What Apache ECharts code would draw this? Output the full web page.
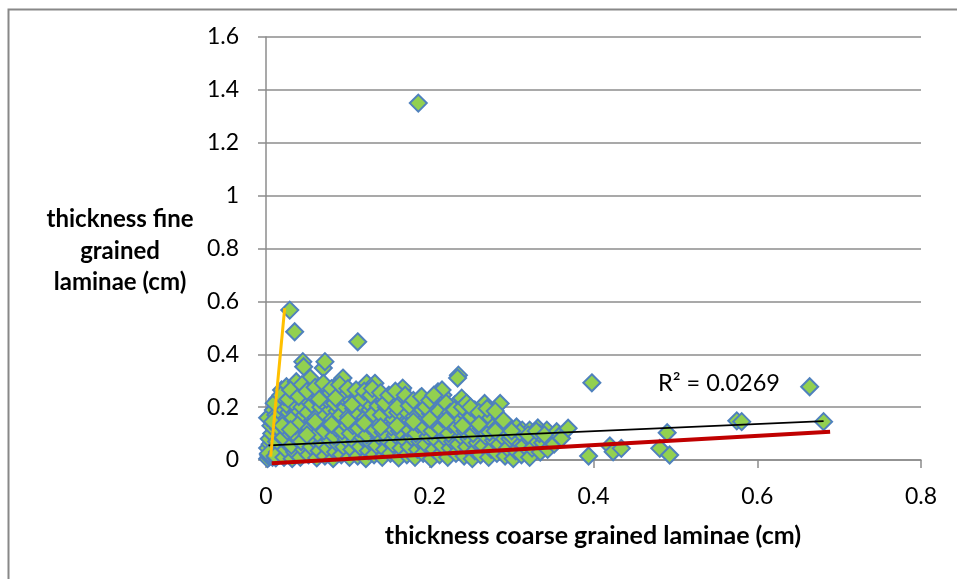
<!DOCTYPE html>
<html>
<head>
<meta charset="utf-8">
<script src="https://cdn.jsdelivr.net/npm/echarts@6/dist/echarts.min.js"></script>
<style>
  html, body { margin: 0; padding: 0; background: #ffffff; }
  #chart { width: 957px; height: 579px; }
</style>
</head>
<body>
<div id="chart"></div>
<script>
// Paired measurements: [coarse lamina thickness, fine lamina thickness] in cm
const laminae = [
  [0.002,0.005],[0.004,0.012],[0.003,0.02],[0.006,0.03],[0.002,0.045],[0.005,0.06],[0.004,0.08],[0.007,0.1],[0.006,0.13],[0.002,0.16],[0.009,0.189],[0.008,0.01],[0.003,0.025],
  [0.012,0.008],[0.014,0.03],[0.016,0.05],[0.013,0.07],[0.018,0.09],[0.015,0.12],[0.017,0.14],[0.012,0.17],[0.019,0.2],[0.014,0.23],[0.019,0.265],[0.011,0.015],
  [0.022,0.01],[0.024,0.04],[0.027,0.06],[0.021,0.085],[0.026,0.11],[0.023,0.15],[0.028,0.18],[0.025,0.21],[0.022,0.24],[0.025,0.277],[0.029,0.567],
  [0.032,0.005],[0.035,0.03],[0.031,0.055],[0.038,0.08],[0.034,0.1],[0.036,0.13],[0.033,0.16],[0.039,0.19],[0.032,0.22],[0.036,0.25],[0.037,0.296],[0.035,0.485],
  [0.042,0.01],[0.046,0.04],[0.043,0.07],[0.048,0.11],[0.041,0.14],[0.047,0.17],[0.044,0.2],[0.049,0.23],[0.042,0.26],[0.045,0.372],[0.046,0.353],
  [0.052,0.02],[0.055,0.05],[0.058,0.08],[0.053,0.12],[0.057,0.15],[0.051,0.18],[0.056,0.21],[0.059,0.24],[0.051,0.277],[0.054,0.31],
  [0.062,0.008],[0.065,0.035],[0.068,0.065],[0.063,0.1],[0.066,0.13],[0.061,0.16],[0.067,0.2],[0.064,0.25],[0.069,0.22],
  [0.072,0.015],[0.075,0.045],[0.078,0.075],[0.071,0.11],[0.076,0.14],[0.073,0.17],[0.079,0.19],[0.074,0.23],[0.077,0.26],[0.07,0.348],[0.072,0.372],
  [0.082,0.005],[0.085,0.03],[0.088,0.06],[0.083,0.09],[0.086,0.12],[0.081,0.155],[0.087,0.185],[0.084,0.215],[0.089,0.25],
  [0.092,0.02],[0.095,0.05],[0.098,0.08],[0.093,0.11],[0.096,0.14],[0.091,0.17],[0.097,0.2],[0.094,0.24],[0.092,0.302],[0.094,0.31],
  [0.102,0.01],[0.105,0.04],[0.108,0.07],[0.103,0.1],[0.106,0.13],[0.101,0.165],[0.107,0.195],[0.104,0.225],[0.109,0.253],
  [0.112,0.015],[0.115,0.05],[0.118,0.085],[0.113,0.12],[0.116,0.15],[0.111,0.18],[0.117,0.21],[0.112,0.447],[0.114,0.24],
  [0.122,0.005],[0.125,0.035],[0.128,0.065],[0.123,0.095],[0.126,0.13],[0.121,0.16],[0.127,0.19],[0.124,0.22],[0.123,0.284],[0.123,0.29],
  [0.132,0.02],[0.135,0.055],[0.138,0.09],[0.133,0.115],[0.136,0.145],[0.131,0.175],[0.137,0.205],[0.134,0.25],[0.133,0.29],
  [0.142,0.01],[0.145,0.04],[0.148,0.075],[0.143,0.105],[0.146,0.14],[0.141,0.17],[0.147,0.2],[0.144,0.23],
  [0.152,0.025],[0.155,0.06],[0.158,0.095],[0.153,0.125],[0.156,0.155],[0.151,0.19],[0.154,0.234],[0.157,0.215],
  [0.162,0.008],[0.165,0.045],[0.168,0.08],[0.163,0.11],[0.166,0.145],[0.161,0.18],[0.167,0.21],[0.166,0.265],[0.167,0.272],[0.164,0.24],
  [0.172,0.02],[0.175,0.05],[0.178,0.085],[0.173,0.12],[0.176,0.15],[0.171,0.185],[0.177,0.22],
  [0.182,0.01],[0.185,0.04],[0.188,0.07],[0.183,0.1],[0.186,0.135],[0.181,0.165],[0.187,0.2],[0.188,0.234],[0.186,1.35],
  [0.192,0.025],[0.195,0.06],[0.198,0.09],[0.193,0.125],[0.196,0.16],[0.191,0.19],[0.197,0.215],
  [0.202,0.005],[0.205,0.04],[0.208,0.075],[0.203,0.11],[0.206,0.14],[0.201,0.175],[0.207,0.2],[0.21,0.258],
  [0.212,0.02],[0.215,0.055],[0.218,0.085],[0.213,0.12],[0.216,0.155],[0.211,0.185],[0.216,0.227],[0.216,0.246],[0.215,0.265],
  [0.222,0.01],[0.225,0.045],[0.228,0.07],[0.223,0.1],[0.226,0.135],[0.221,0.165],[0.227,0.195],
  [0.232,0.025],[0.235,0.06],[0.238,0.09],[0.233,0.125],[0.236,0.155],[0.231,0.21],[0.239,0.234],[0.235,0.321],[0.234,0.31],
  [0.242,0.015],[0.245,0.05],[0.248,0.08],[0.243,0.11],[0.246,0.145],[0.241,0.18],
  [0.252,0.005],[0.255,0.035],[0.258,0.065],[0.253,0.1],[0.256,0.13],[0.251,0.165],[0.255,0.189],
  [0.262,0.02],[0.265,0.055],[0.268,0.09],[0.263,0.12],[0.266,0.15],[0.267,0.214],
  [0.272,0.01],[0.275,0.04],[0.278,0.075],[0.273,0.105],[0.276,0.14],[0.271,0.17],
  [0.282,0.025],[0.285,0.06],[0.288,0.09],[0.283,0.125],[0.286,0.16],[0.286,0.214],
  [0.292,0.015],[0.295,0.045],[0.298,0.08],[0.293,0.11],[0.296,0.13],
  [0.302,0.005],[0.305,0.035],[0.308,0.07],[0.303,0.1],[0.306,0.125],
  [0.312,0.02],[0.315,0.055],[0.318,0.09],[0.313,0.113],
  [0.322,0.01],[0.325,0.045],[0.328,0.08],[0.322,0.113],[0.332,0.121],
  [0.335,0.03],[0.338,0.065],[0.334,0.1],[0.343,0.113],
  [0.344,0.04],[0.347,0.075],[0.355,0.107],[0.352,0.06],[0.358,0.09],
  [0.361,0.082],[0.369,0.12],
  [0.394,0.015],[0.398,0.292],[0.42,0.053],[0.424,0.031],[0.434,0.044],
  [0.481,0.044],[0.49,0.103],[0.493,0.019],
  [0.575,0.148],[0.581,0.145],[0.664,0.277],[0.681,0.145],
  // second pass of readings in the denser upper band
  [0.008,0.145],[0.01,0.215],[0.018,0.245],[0.027,0.23],[0.03,0.265],[0.04,0.24],[0.044,0.285],[0.05,0.26],
  [0.06,0.275],[0.065,0.23],[0.07,0.29],[0.08,0.27],[0.085,0.235],[0.09,0.285],[0.1,0.27],[0.105,0.21],
  [0.11,0.265],[0.118,0.235],[0.12,0.26],[0.128,0.245],[0.13,0.27],[0.14,0.255],[0.145,0.215],[0.15,0.245],
  [0.158,0.26],[0.16,0.2],[0.17,0.245],[0.175,0.205],[0.18,0.225],[0.19,0.24],[0.195,0.2],[0.2,0.225],
  [0.205,0.245],[0.22,0.215],[0.225,0.18],[0.23,0.19],[0.24,0.2],[0.245,0.215],[0.25,0.2],[0.26,0.18],
  [0.27,0.195],[0.28,0.185],[0.29,0.15],[0.3,0.09],[0.31,0.105],[0.32,0.095],[0.33,0.11],[0.34,0.095],
  [0.02,0.13],[0.03,0.115],[0.05,0.095],[0.06,0.145],[0.08,0.135],[0.1,0.15],[0.12,0.14],[0.14,0.125],
  [0.16,0.13],[0.18,0.145],[0.2,0.155],[0.22,0.15],[0.24,0.13],[0.26,0.135],[0.28,0.11],[0.3,0.11]
];

// Fitted lines drawn across the data
const linearFit = [[0.003, 0.055], [0.681, 0.147]];
const lowerBound = [[0.007, -0.012], [0.689, 0.107]];
const steepFit = [[0.0057, 0.0125], [0.0228, 0.574]];

const xTicks = { min: 0, max: 0.8, step: 0.2 };
const yTicks = { min: 0, max: 1.6, step: 0.2 };
const rSquaredText = 'R² = 0.0269';

const FONT = 'Lato, "Open Sans", sans-serif';
const gridColor = '#8c8c8c';

const chart = echarts.init(document.getElementById('chart'), null, { renderer: 'canvas' });

chart.setOption({
  animation: false,
  backgroundColor: '#ffffff',
  grid: { left: 266, right: 36, top: 37, bottom: 119, containLabel: false },
  xAxis: {
    type: 'value',
    min: xTicks.min, max: xTicks.max, interval: xTicks.step,
    axisLine: { show: true, onZero: false, lineStyle: { color: gridColor, width: 1.5 } },
    axisTick: { show: true, inside: false, length: 8, lineStyle: { color: gridColor, width: 1.5 } },
    axisLabel: { color: '#000', fontFamily: FONT, fontSize: 23, margin: 25,
      formatter: v => String(Math.round(v * 10) / 10) },
    splitLine: { show: false }
  },
  yAxis: {
    type: 'value',
    min: yTicks.min, max: yTicks.max, interval: yTicks.step,
    axisLine: { show: true, onZero: false, lineStyle: { color: gridColor, width: 1.5 } },
    axisTick: { show: true, inside: false, length: 8, lineStyle: { color: gridColor, width: 1.5 } },
    axisLabel: { color: '#000', fontFamily: FONT, fontSize: 23, margin: 27,
      formatter: v => String(Math.round(v * 10) / 10) },
    splitLine: { show: true, lineStyle: { color: gridColor, width: 1.5 } }
  },
  series: [
    {
      type: 'scatter',
      data: laminae,
      symbol: 'diamond',
      symbolSize: 17,
      clip: false,
      itemStyle: { color: '#92D050', borderColor: '#4F81BD', borderWidth: 2, opacity: 1 },
      z: 2
    },
    {
      type: 'line', data: linearFit, showSymbol: false, clip: false,
      lineStyle: { color: '#000000', width: 1.8 }, z: 3
    },
    {
      type: 'line', data: lowerBound, showSymbol: false, clip: false,
      lineStyle: { color: '#C00000', width: 4 }, z: 4
    },
    {
      type: 'line', data: steepFit, showSymbol: false, clip: false,
      lineStyle: { color: '#FFC000', width: 3 }, z: 5
    }
  ],
  graphic: [
    {
      type: 'rect', left: 6, top: 7, silent: true,
      shape: { width: 1000, height: 620 },
      style: { fill: 'none', stroke: '#888888', lineWidth: 2 }, z: -1
    },
    {
      type: 'text', x: 658, y: 383,
      style: { text: rSquaredText, fill: '#000', font: '23.5px ' + FONT, verticalAlign: 'middle' }
    },
    {
      type: 'text', x: 120, y: 251,
      style: { text: 'thickness fine\ngrained\nlaminae (cm)', fill: '#000',
        font: 'bold 24px ' + FONT, align: 'center', verticalAlign: 'middle', lineHeight: 31.5 }
    },
    {
      type: 'text', x: 593, y: 536,
      style: { text: 'thickness coarse grained laminae (cm)', fill: '#000',
        font: 'bold 25px ' + FONT, align: 'center', verticalAlign: 'middle' }
    }
  ]
});
</script>
</body>
</html>
